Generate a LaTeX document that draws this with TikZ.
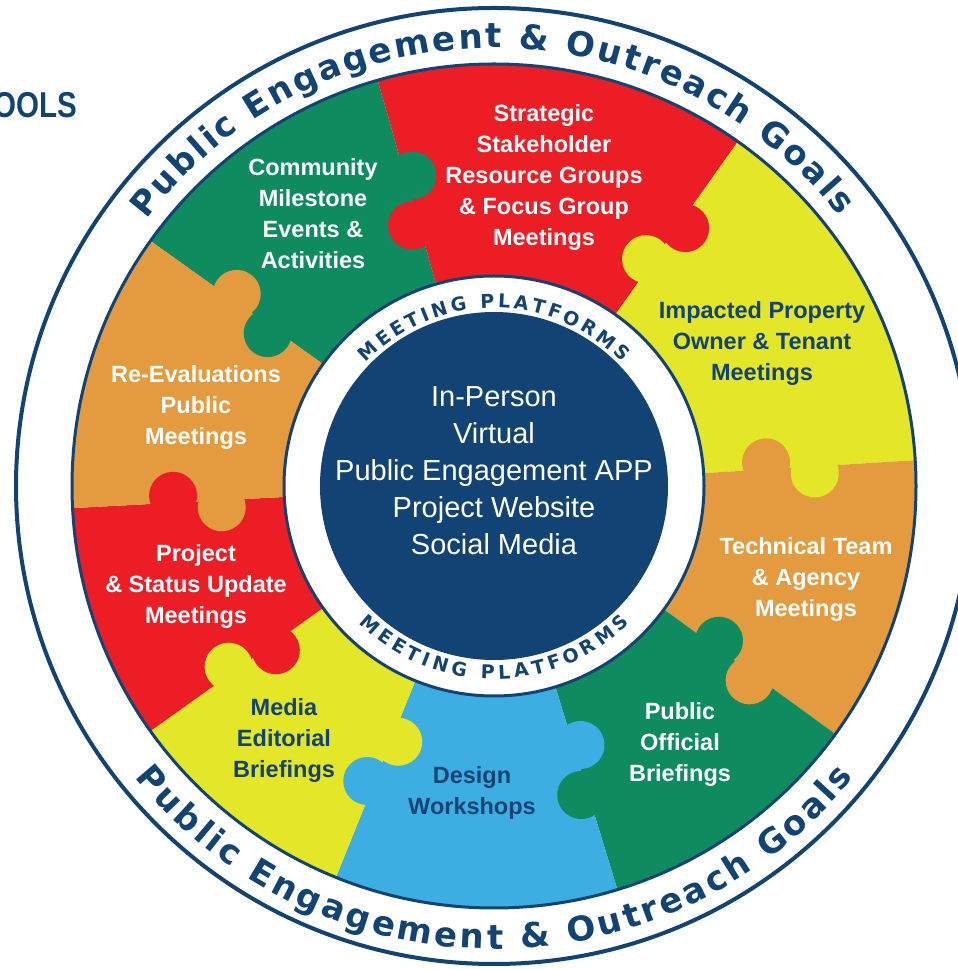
\documentclass[tikz,border=0pt]{standalone}
\usepackage{fontspec}
\usetikzlibrary{decorations.text}
\newfontfamily\lsans{Liberation Sans}
\newfontfamily\dvsans{DejaVu Sans}
\definecolor{navyc}{RGB}{18,67,117}
\definecolor{pgreen}{RGB}{14,139,95}
\definecolor{pred}{RGB}{236,29,36}
\definecolor{pyellow}{RGB}{228,230,40}
\definecolor{porange}{RGB}{228,155,64}
\definecolor{pblue}{RGB}{60,174,226}
\tikzset{
  lbl/.style={align=center, font=\lsans\bfseries\fontsize{23.5}{31}\selectfont, inner sep=0pt},
  wlbl/.style={lbl, text=white},
  nlbl/.style={lbl, text=navyc},
  ringtext/.style={decorate, decoration={text along path, text color=navyc, text align={fit to path}, text={#1}}},
}
\begin{document}
\begin{tikzpicture}[x=1pt,y=1pt]
\clip (0,0) rectangle (958,969);
\coordinate (C) at (494,483);
% outer band
\draw[navyc, line width=4, fill=white] (C) circle[radius=478];
% puzzle pieces
\foreach \a/\b/\c in {106/144.5/pgreen, 54.7/106/pred, 3.5/54.7/pyellow, -36/3.5/porange, -73/-36/pgreen, -112/-73/pblue, -144.5/-112/pyellow, -177/-144.5/pred, -215.5/-177/porange}
  \fill[\c] (C) -- ([shift={(\a:422)}]C) arc[start angle=\a, end angle=\b, radius=422] -- cycle;
% knobs
\foreach \t/\p/\q in {106/pgreen/pred, 54.7/pred/pyellow, 3.5/pyellow/porange, -36/porange/pgreen, -73/pgreen/pblue, -112/pblue/pyellow, -144.5/pyellow/pred, -177/pred/porange, 144.5/porange/pgreen}
{
  \begin{scope}[shift={(C)}, rotate=\t]
    \fill[\p] (321,-7) circle[radius=24];
    \fill[\q] (273,7) circle[radius=24];
  \end{scope}
}
\draw[navyc, line width=3] (C) circle[radius=422];
% inner ring and disk
\draw[navyc, line width=3, fill=white] (C) circle[radius=210];
\fill[navyc] (C) circle[radius=174];
% ring texts
\path[ringtext={|\dvsans\bfseries\fontsize{34}{34}\selectfont|Public Engagement {\&} Outreach Goals}]
  ([shift={(142.5:438)}]C) arc[start angle=142.5, end angle=38, radius=438];
\path[ringtext={|\dvsans\bfseries\fontsize{34}{34}\selectfont|Public Engagement {\&} Outreach Goals}]
  ([shift={(219:463)}]C) arc[start angle=219, end angle=321, radius=463];
\path[ringtext={|\dvsans\bfseries\fontsize{19}{19}\selectfont|MEETING PLATFORMS}]
  ([shift={(136:178)}]C) arc[start angle=136, end angle=44, radius=178];
\path[ringtext={|\dvsans\bfseries\fontsize{19}{19}\selectfont|MEETING PLATFORMS}]
  ([shift={(225.5:193)}]C) arc[start angle=225.5, end angle=314.5, radius=193];
% centre text
\node[font=\lsans\fontsize{29}{37}\selectfont, text=white, align=center, inner sep=0pt] (platforms) at (494,498)
  {In-Person\\Virtual\\Public Engagement APP\\Project Website\\Social Media};
% piece labels
\node[wlbl] (comm) at (313,755) {Community\\Milestone\\Events \&\\Activities};
\node[wlbl] (strat) at (544,792) {Strategic\\Stakeholder\\Resource Groups\\\& Focus Group\\Meetings};
\node[nlbl] (impact) at (762,626) {Impacted Property\\Owner \& Tenant\\Meetings};
\node[wlbl] (tech) at (806,390) {Technical Team\\\& Agency\\Meetings};
\node[wlbl] (pubof) at (680,225) {Public\\Official\\Briefings};
\node[nlbl] (design) at (472,176) {Design\\Workshops};
\node[nlbl] (media) at (284,229) {Media\\Editorial\\Briefings};
\node[wlbl] (project) at (196,383) {Project\\\& Status Update\\Meetings};
\node[wlbl] (reeval) at (196,562) {Re-Evaluations\\Public\\Meetings};
% partial title
\node[anchor=base east, inner sep=0pt, text=navyc, font=\lsans\bfseries\fontsize{36}{36}\selectfont, xscale=0.82] (tools) at (77,851) {OOLS};
\end{tikzpicture}
\end{document}
